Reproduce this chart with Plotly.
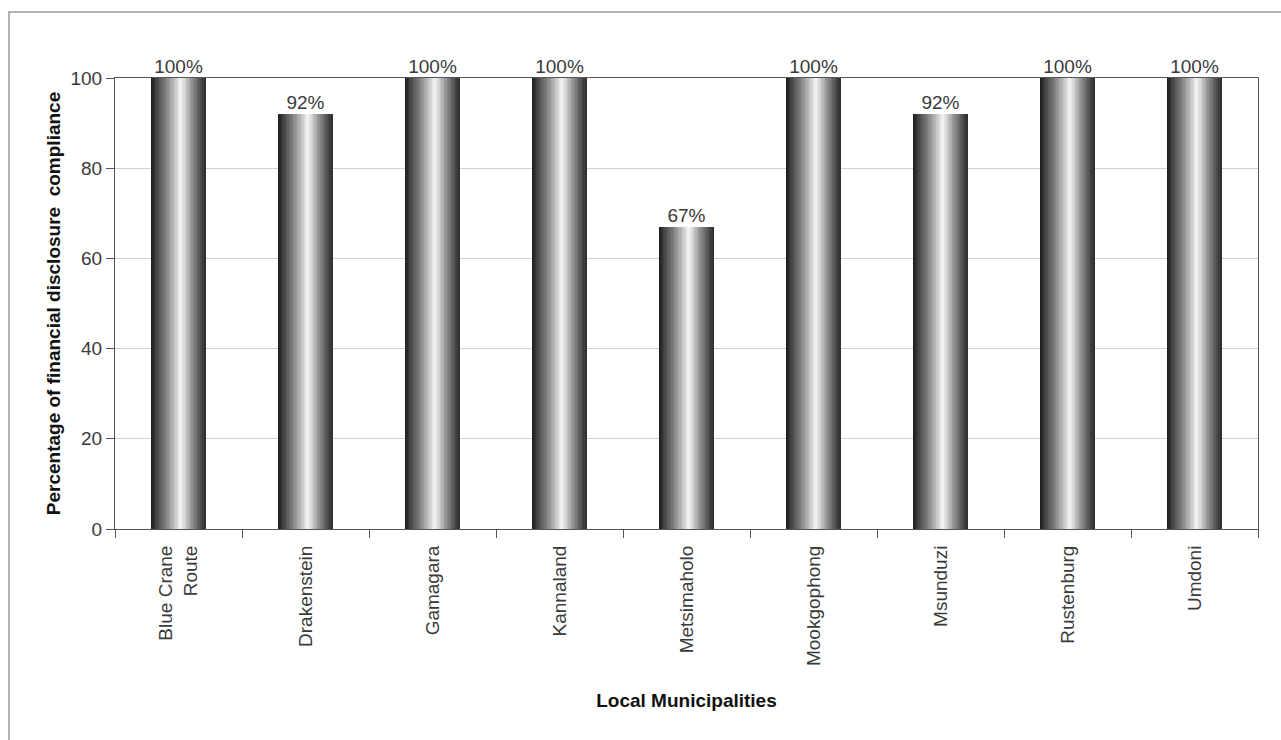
import plotly.graph_objects as go

# Local municipalities and their financial disclosure compliance (%)
municipalities = ["Blue Crane<br>Route", "Drakenstein", "Gamagara", "Kannaland", "Metsimaholo",
                  "Mookgophong", "Msunduzi", "Rustenburg", "Umdoni"]
compliance = [100, 92, 100, 100, 67, 100, 92, 100, 100]
value_labels = ["100%", "92%", "100%", "100%", "67%", "100%", "92%", "100%", "100%"]

y_ticks = [0, 20, 40, 60, 80, 100]

# Cylinder-like shading profile across each bar (position 0..1 -> grey level)
shade_pos = [0.0, 0.08, 0.25, 0.45, 0.55, 0.62, 0.75, 0.9, 1.0]
shade_lvl = [25, 60, 120, 200, 245, 215, 150, 85, 45]

BAR_W = 0.425
N_STRIPS = 40
FONT = "Liberation Sans, Arial, sans-serif"

def grey_at(t):
    for k in range(len(shade_pos) - 1):
        if shade_pos[k] <= t <= shade_pos[k + 1]:
            f = (t - shade_pos[k]) / (shade_pos[k + 1] - shade_pos[k])
            g = shade_lvl[k] + f * (shade_lvl[k + 1] - shade_lvl[k])
            g = int(round(g))
            return f"rgb({g},{g},{g})"
    g = shade_lvl[-1]
    return f"rgb({g},{g},{g})"

fig = go.Figure()
strip_w = BAR_W / N_STRIPS
for i in range(N_STRIPS):
    t = (i + 0.5) / N_STRIPS
    fig.add_trace(go.Bar(
        x=municipalities, y=compliance,
        width=strip_w * 1.15,
        offset=-BAR_W / 2 + i * strip_w,
        marker=dict(color=grey_at(t), line=dict(width=0)),
        showlegend=False, hoverinfo="skip",
    ))

# Value labels above the bars
fig.add_trace(go.Scatter(
    x=municipalities, y=compliance, mode="text", text=value_labels,
    textposition="top center",
    textfont=dict(family=FONT, size=19, color="#3a3a3a"),
    showlegend=False, hoverinfo="skip", cliponaxis=False,
))

# Outer frame around the figure
plot_l, plot_r, plot_t, plot_b = 115, 1258, 78, 529
pw, ph = plot_r - plot_l, plot_b - plot_t
fig.add_shape(type="rect", xref="paper", yref="paper",
              x0=(9 - plot_l) / pw, x1=(1300 - plot_l) / pw,
              y0=(plot_b - 760) / ph, y1=(plot_b - 12) / ph,
              line=dict(color="#9a9a9a", width=1.5), layer="below")

fig.update_layout(
    width=1281, height=740,
    margin=dict(l=plot_l, r=1281 - plot_r, t=plot_t, b=740 - plot_b),
    paper_bgcolor="white", plot_bgcolor="white",
    barmode="overlay", bargap=0,
    font=dict(family=FONT, color="#3a3a3a"),
    xaxis=dict(
        tickangle=-90, tickson="boundaries", ticks="outside", ticklen=8,
        tickcolor="#555555", showline=True, linecolor="#555555", linewidth=1,
        mirror=True, showgrid=False, ticklabelstandoff=8,
        tickfont=dict(size=19, color="#3a3a3a"),
        title=dict(text="Local Municipalities", standoff=28,
                   font=dict(size=19, color="#111111", weight="bold")),
    ),
    yaxis=dict(
        range=[0, 100], tickvals=y_ticks, ticks="outside", ticklen=8,
        tickcolor="#555555", showline=True, linecolor="#555555", linewidth=1,
        mirror=True, showgrid=True, gridcolor="#d0d0d0", gridwidth=1,
        zeroline=False,
        tickfont=dict(size=19, color="#3a3a3a"),
        title=dict(text="Percentage of financial disclosure  compliance", standoff=4,
                   font=dict(size=19, color="#111111", weight="bold")),
    ),
)

fig.write_html("out.html")
